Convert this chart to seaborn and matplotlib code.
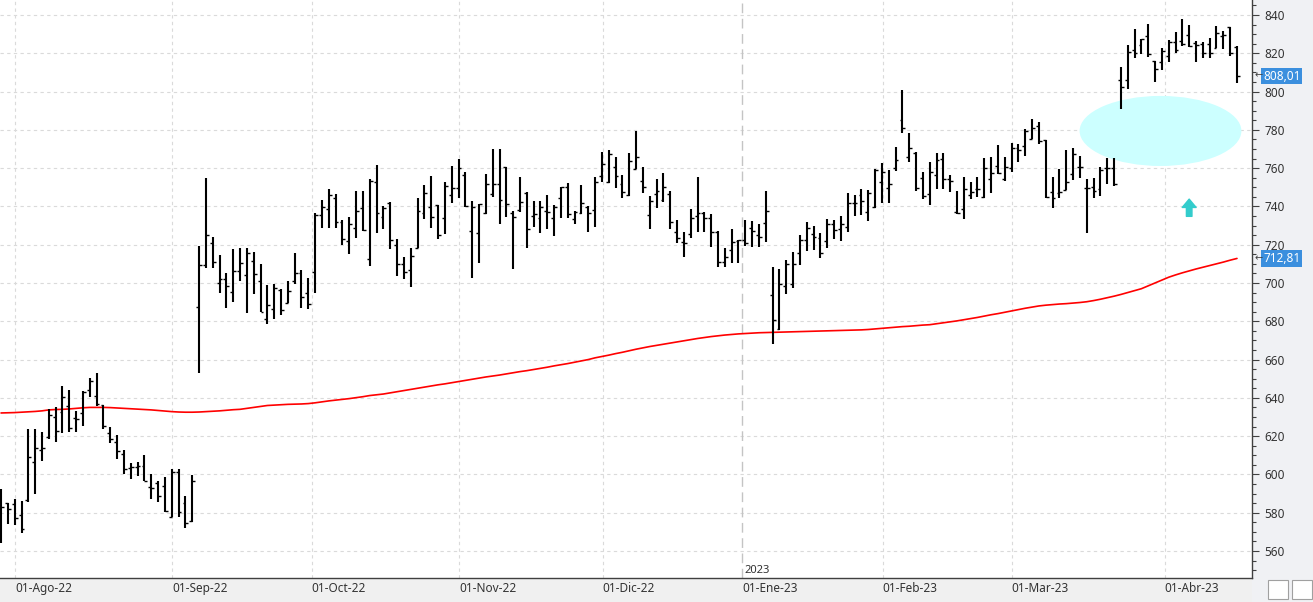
import numpy as np
import pandas as pd
import matplotlib
matplotlib.use("Agg")
import matplotlib.pyplot as plt
import matplotlib.transforms as mtransforms
from matplotlib.patches import Ellipse, Rectangle
import seaborn as sns

# ---------------- data ----------------
opens = [589.1, 584.9, 584.6, 578.8, 586.7, 606.4, 612.5, 619.8, 630.2, 632.5,
         635.8, 629.3, 632.3, 644.1, 641.0, 636.1, 621.5, 617.1, 610.5, 603.2,
         604.1, 604.4, 593.6, 595.7, 594.0, 578.0, 601.1, 584.9, 575.7, 687.3,
         709.2, 720.7, 699.8, 701.9, 695.3, 706.1, 704.0, 711.5, 700.9, 681.0,
         686.2, 696.3, 689.7, 701.0, 705.0, 694.6, 705.6, 735.5, 738.5, 744.2,
         731.7, 721.8, 728.6, 739.0, 712.4, 752.6, 734.3, 741.6, 719.9, 709.8,
         706.6, 718.3, 736.4, 739.5, 740.6, 733.8, 745.8, 749.8, 756.2, 727.0,
         726.0, 736.4, 746.3, 751.5, 760.4, 736.4, 738.1, 746.8, 735.2, 733.8,
         737.6, 733.8, 744.2, 750.3, 733.4, 736.4, 739.9, 738.1, 756.1, 752.6,
         760.8, 751.5, 745.8, 759.4, 753.3, 735.3, 746.3, 743.4, 746.3, 726.8,
         721.2, 725.4, 735.0, 736.4, 734.1, 726.5, 711.1, 717.2, 722.1, 722.5,
         728.6, 725.1, 731.5, 693.6, 676.1, 698.4, 699.5, 715.5, 722.5, 725.4,
         723.3, 721.9, 730.8, 728.0, 729.4, 741.6, 745.9, 737.3, 739.5, 752.9,
         749.5, 760.0, 785.1, 765.6, 768.1, 754.7, 746.3, 756.4, 764.6, 754.1,
         737.3, 738.5, 746.0, 748.9, 744.7, 754.1, 761.3, 754.1, 759.9, 770.3,
         771.6, 775.0, 782.2, 774.7, 747.4, 746.8, 748.6, 756.8, 760.8, 749.4,
         750.0, 749.1, 760.2, 759.9, 806.0, 806.0, 821.7, 824.3, 829.0, 816.0,
         815.6, 818.6, 826.1, 826.4, 829.5, 825.2, 824.9, 824.7, 822.6, 829.2,
         833.6, 823.1]
highs = [592.2, 585.3, 587.0, 586.2, 623.8, 623.6, 622.4, 634.2, 635.1, 646.0,
         644.1, 633.2, 643.8, 650.6, 652.8, 636.3, 624.6, 620.4, 612.8, 605.8,
         606.4, 610.2, 600.3, 596.4, 598.9, 602.8, 602.8, 588.8, 599.7, 719.3,
         754.8, 723.8, 714.5, 705.0, 717.6, 718.1, 718.1, 716.0, 709.7, 698.8,
         699.5, 696.7, 701.0, 715.7, 706.8, 702.4, 736.7, 743.4, 748.9, 746.5,
         732.9, 734.5, 748.1, 748.1, 754.2, 761.6, 740.0, 742.1, 722.9, 713.6,
         718.3, 744.2, 751.0, 755.9, 740.8, 752.8, 760.9, 764.8, 757.8, 742.8,
         741.1, 756.8, 770.0, 770.0, 760.4, 737.6, 755.2, 747.4, 742.8, 742.9,
         746.0, 740.8, 750.3, 752.4, 737.8, 751.2, 740.2, 755.4, 768.4, 769.5,
         765.6, 756.4, 767.7, 779.4, 760.4, 745.4, 754.2, 757.3, 748.1, 732.9,
         726.5, 738.7, 755.2, 736.9, 735.9, 727.3, 718.1, 728.2, 722.5, 732.9,
         732.4, 730.8, 748.2, 708.5, 707.3, 712.0, 716.0, 725.1, 732.0, 729.8,
         726.3, 733.3, 732.9, 735.0, 746.8, 745.9, 748.9, 748.6, 759.4, 762.5,
         759.0, 771.0, 800.8, 778.5, 768.6, 758.0, 763.0, 767.7, 768.1, 756.2,
         748.0, 755.2, 752.6, 755.5, 765.1, 765.6, 772.1, 765.6, 773.3, 772.6,
         780.3, 785.7, 784.3, 774.7, 755.5, 759.5, 769.5, 770.3, 766.3, 754.3,
         754.7, 760.4, 765.1, 765.1, 813.0, 824.3, 832.5, 827.3, 835.3, 816.0,
         822.6, 826.9, 831.0, 837.9, 834.8, 826.4, 826.1, 827.8, 834.3, 831.6,
         833.6, 823.8]
lows = [564.0, 574.1, 573.8, 569.6, 585.8, 590.0, 607.2, 618.5, 617.1, 621.5,
        622.4, 622.4, 625.5, 640.6, 635.9, 623.6, 616.3, 608.3, 600.3, 597.5,
        599.4, 596.4, 587.4, 585.8, 580.6, 577.6, 578.0, 572.2, 575.3, 652.8,
        707.7, 707.7, 695.0, 686.8, 690.3, 701.2, 684.2, 694.4, 684.7, 678.4,
        681.0, 683.1, 689.4, 699.3, 687.1, 686.2, 694.6, 728.9, 728.6, 728.6,
        720.0, 715.3, 723.3, 727.3, 709.1, 726.3, 728.4, 717.9, 703.8, 702.3,
        697.7, 718.1, 733.6, 728.6, 722.8, 725.4, 741.6, 744.4, 739.9, 702.4,
        710.6, 735.9, 745.1, 731.0, 734.7, 707.1, 737.2, 718.1, 729.4, 726.3,
        728.4, 724.3, 734.1, 734.1, 730.6, 736.0, 726.8, 729.4, 752.6, 752.1,
        749.8, 744.6, 745.6, 759.4, 746.8, 728.0, 739.0, 742.5, 728.0, 720.7,
        713.4, 723.3, 726.5, 726.5, 718.6, 708.5, 708.2, 710.3, 710.3, 719.5,
        719.0, 719.0, 721.6, 668.0, 675.4, 694.3, 697.2, 709.4, 716.9, 717.2,
        713.2, 718.5, 722.8, 722.0, 726.8, 735.2, 735.5, 732.6, 739.4, 741.6,
        741.6, 758.7, 778.5, 763.4, 748.2, 743.7, 740.9, 749.3, 749.3, 747.7,
        735.9, 733.3, 743.9, 745.1, 744.2, 747.2, 756.9, 753.5, 758.2, 763.0,
        766.5, 775.0, 772.4, 744.2, 739.0, 744.2, 748.6, 754.0, 755.0, 726.0,
        744.2, 745.5, 751.7, 750.8, 790.7, 801.2, 817.7, 819.5, 818.2, 804.8,
        811.0, 815.6, 820.0, 824.0, 823.5, 815.6, 817.7, 817.4, 822.6, 822.1,
        818.8, 804.3]
closes = [583.0, 581.8, 577.1, 571.4, 609.0, 613.7, 613.7, 631.1, 622.7, 640.3,
          624.1, 628.8, 643.3, 648.8, 636.6, 625.3, 618.5, 612.4, 602.9, 603.7,
          604.4, 596.8, 592.8, 588.8, 581.1, 601.5, 580.6, 574.5, 596.6, 709.2,
          724.9, 710.8, 702.1, 698.4, 706.3, 710.3, 715.7, 704.5, 684.7, 688.3,
          697.2, 685.7, 695.6, 705.0, 692.7, 688.9, 735.5, 739.5, 746.0, 732.0,
          723.0, 730.6, 737.6, 727.7, 753.3, 736.4, 739.0, 722.5, 709.8, 705.6,
          714.1, 737.6, 747.0, 734.3, 724.9, 750.7, 749.5, 759.9, 740.2, 739.7,
          741.1, 751.5, 751.5, 743.2, 741.1, 734.7, 742.1, 728.2, 735.9, 739.5,
          736.9, 739.7, 750.0, 735.9, 737.3, 741.6, 736.4, 752.6, 762.2, 767.2,
          755.9, 747.4, 763.9, 765.6, 750.3, 742.8, 748.1, 750.0, 731.7, 723.3,
          721.1, 733.8, 736.4, 733.8, 726.8, 711.1, 713.4, 721.2, 722.5, 720.7,
          727.2, 724.2, 737.6, 680.7, 699.3, 709.7, 709.7, 722.5, 728.6, 723.9,
          715.5, 730.8, 727.7, 731.0, 741.6, 741.6, 742.8, 747.2, 759.0, 758.2,
          751.7, 764.3, 780.8, 770.3, 749.4, 745.3, 757.8, 764.2, 754.1, 753.3,
          736.7, 748.9, 747.7, 748.9, 759.9, 757.3, 757.6, 760.4, 770.7, 769.5,
          779.4, 780.8, 774.1, 745.1, 744.2, 747.4, 752.9, 767.6, 760.8, 749.4,
          747.8, 759.0, 759.9, 751.5, 802.2, 820.5, 820.3, 827.3, 819.6, 811.6,
          821.4, 826.1, 821.7, 824.7, 824.0, 824.3, 820.0, 820.3, 830.4, 829.5,
          820.3, 808.01]
moving_avg = [632.1, 632.2, 632.3, 632.5, 632.7, 632.9, 633.2, 633.7, 633.9, 634.0,
              634.2, 634.5, 634.8, 635.0, 635.0, 635.0, 634.9, 634.7, 634.5, 634.3,
              634.1, 633.9, 633.7, 633.4, 633.1, 632.8, 632.6, 632.5, 632.5, 632.6,
              632.8, 633.0, 633.2, 633.5, 633.8, 634.0, 634.5, 635.0, 635.5, 636.0,
              636.2, 636.4, 636.6, 636.7, 636.8, 637.0, 637.4, 637.9, 638.4, 638.8,
              639.2, 639.6, 640.1, 640.6, 641.2, 641.6, 642.0, 642.6, 643.2, 643.8,
              644.4, 645.0, 645.6, 646.2, 646.8, 647.3, 647.9, 648.5, 649.1, 649.7,
              650.3, 650.9, 651.4, 651.9, 652.5, 653.1, 653.7, 654.2, 654.8, 655.4,
              656.0, 656.7, 657.3, 657.9, 658.6, 659.3, 660.0, 660.9, 661.6, 662.3,
              663.1, 663.8, 664.6, 665.4, 666.1, 666.8, 667.4, 668.0, 668.6, 669.2,
              669.8, 670.4, 671.0, 671.5, 672.0, 672.4, 672.8, 673.1, 673.4, 673.6,
              673.8, 674.0, 674.1, 674.2, 674.3, 674.4, 674.5, 674.6, 674.7, 674.8,
              674.9, 675.0, 675.1, 675.2, 675.3, 675.4, 675.5, 675.7, 676.0, 676.3,
              676.6, 676.9, 677.2, 677.4, 677.7, 678.0, 678.2, 678.7, 679.2, 679.7,
              680.2, 680.8, 681.4, 682.0, 682.7, 683.4, 684.0, 684.7, 685.4, 686.1,
              686.8, 687.4, 688.0, 688.4, 688.7, 689.0, 689.2, 689.5, 689.8, 690.2,
              690.8, 691.5, 692.3, 693.1, 694.0, 695.0, 696.0, 697.0, 698.5, 700.0,
              701.5, 703.0, 704.2, 705.3, 706.3, 707.3, 708.2, 709.1, 710.0, 710.9,
              711.9, 712.81]

month_labels = ["01-Ago-22", "01-Sep-22", "01-Oct-22", "01-Nov-22", "01-Dic-22",
                "01-Ene-23", "01-Feb-23", "01-Mar-23", "01-Abr-23"]
month_pos = [2.1, 25.1, 45.5, 67.1, 88.1, 108.5, 129.1, 148.0, 170.4]
year_label = "2023"
y_ticks = list(range(560, 841, 20))
last_close_label = "808,01"
last_ma_label = "712,81"

# ---------------- figure ----------------
sns.set_style("white")
plt.rcParams["font.family"] = ["Noto Sans", "DejaVu Sans"]

W, H = 1313, 602
fig = plt.figure(figsize=(W / 100, H / 100), dpi=100, facecolor="#f0f0f0")
ax = fig.add_axes([0, 1 - 578 / H, 1252 / W, 578 / H])
ax.set_facecolor("white")

idx = np.arange(len(closes))
ax.set_xlim(-0.15, 183.2)
ax.set_ylim(545.9, 847.8)

# grid
for y in y_ticks:
    ax.axhline(y, color="#dadada", lw=0.8, ls=(0, (3, 3)), zorder=0)
for p, lab in zip(month_pos, month_labels):
    if lab.startswith("01-Ene"):
        ax.axvline(p, color="#c4c4c4", lw=1.0, ls=(0, (7, 4)), zorder=0)
    else:
        ax.axvline(p, color="#dadada", lw=0.8, ls=(0, (3, 3)), zorder=0)

# highlight ellipse and arrow
ax.add_patch(Ellipse((169.8, 779.4), 23.7, 36.6, facecolor="#ccffff",
                     edgecolor="none", zorder=1))
ax.annotate("", xy=(174.0, 743.8), xytext=(174.0, 734.8),
            arrowprops=dict(arrowstyle="simple,head_length=0.6,head_width=1.0,tail_width=0.4",
                            color="#33cccc", mutation_scale=10, shrinkA=0, shrinkB=0),
            zorder=3)

# OHLC bars
ax.vlines(idx, lows, highs, color="black", lw=1.5, zorder=4)
ax.hlines(opens, idx - 0.42, idx, color="black", lw=1.0, zorder=4)
ax.hlines(closes, idx, idx + 0.42, color="black", lw=1.0, zorder=4)

# moving average
df_ma = pd.DataFrame({"i": idx, "ma": moving_avg})
sns.lineplot(data=df_ma, x="i", y="ma", color="#ff0000", lw=1.2, ax=ax, zorder=3)
ax.set_xlabel("")
ax.set_ylabel("")

# axes styling
for s in ["top", "left"]:
    ax.spines[s].set_visible(False)
for s in ["right", "bottom"]:
    ax.spines[s].set_color("#404040")
    ax.spines[s].set_linewidth(1.0)

ax.yaxis.tick_right()
ax.set_yticks(y_ticks)
ax.set_yticklabels([str(v) for v in y_ticks])
ax.set_yticks(np.arange(550, 846, 5), minor=True)
ax.tick_params(axis="y", which="major", direction="out", length=5, width=0.8,
               color="#404040", labelsize=8.5, labelcolor="#333333", pad=4,
               right=True, left=False)
ax.tick_params(axis="y", which="minor", direction="out", length=3, width=0.8,
               color="#404040", right=True, left=False)

ax.set_xticks(month_pos)
ax.set_xticklabels(month_labels)
ax.tick_params(axis="x", direction="out", length=8, width=0.8, color="#404040",
               labelsize=8.5, labelcolor="#333333", pad=-5)
for lbl in ax.get_xticklabels():
    lbl.set_horizontalalignment("left")

# year label
ax.text(108.8, 547.0, year_label, fontsize=8, color="#333333", ha="left",
        va="bottom")

# value tags at right
trans = mtransforms.blended_transform_factory(ax.transAxes, ax.transData)
for val, txt in [(808.01, last_close_label), (712.81, last_ma_label)]:
    ax.text(1.0 + 11 / 1252, val, txt, transform=trans, fontsize=8.5,
            color="white", ha="left", va="center", clip_on=False,
            bbox=dict(boxstyle="square,pad=0.15", facecolor="#3b8fde",
                      edgecolor="none"))
    ax.text(1.0 + 3 / 1252, val, "←", transform=trans, fontsize=7,
            color="#404040", ha="left", va="center", clip_on=False)

# right panel background
fig.patches.append(Rectangle((1252 / W, 0), 1 - 1252 / W, 1, transform=fig.transFigure,
                             facecolor="#f0f1f4", edgecolor="none", zorder=-1))
# bottom-right icons
for x0 in (1268, 1292):
    fig.patches.append(Rectangle((x0 / W, 3 / H), 20 / W, 19 / H,
                                 transform=fig.transFigure, facecolor="white",
                                 edgecolor="#a0a0a0", lw=0.8))

fig.savefig("out.png", dpi=100, facecolor=fig.get_facecolor())
